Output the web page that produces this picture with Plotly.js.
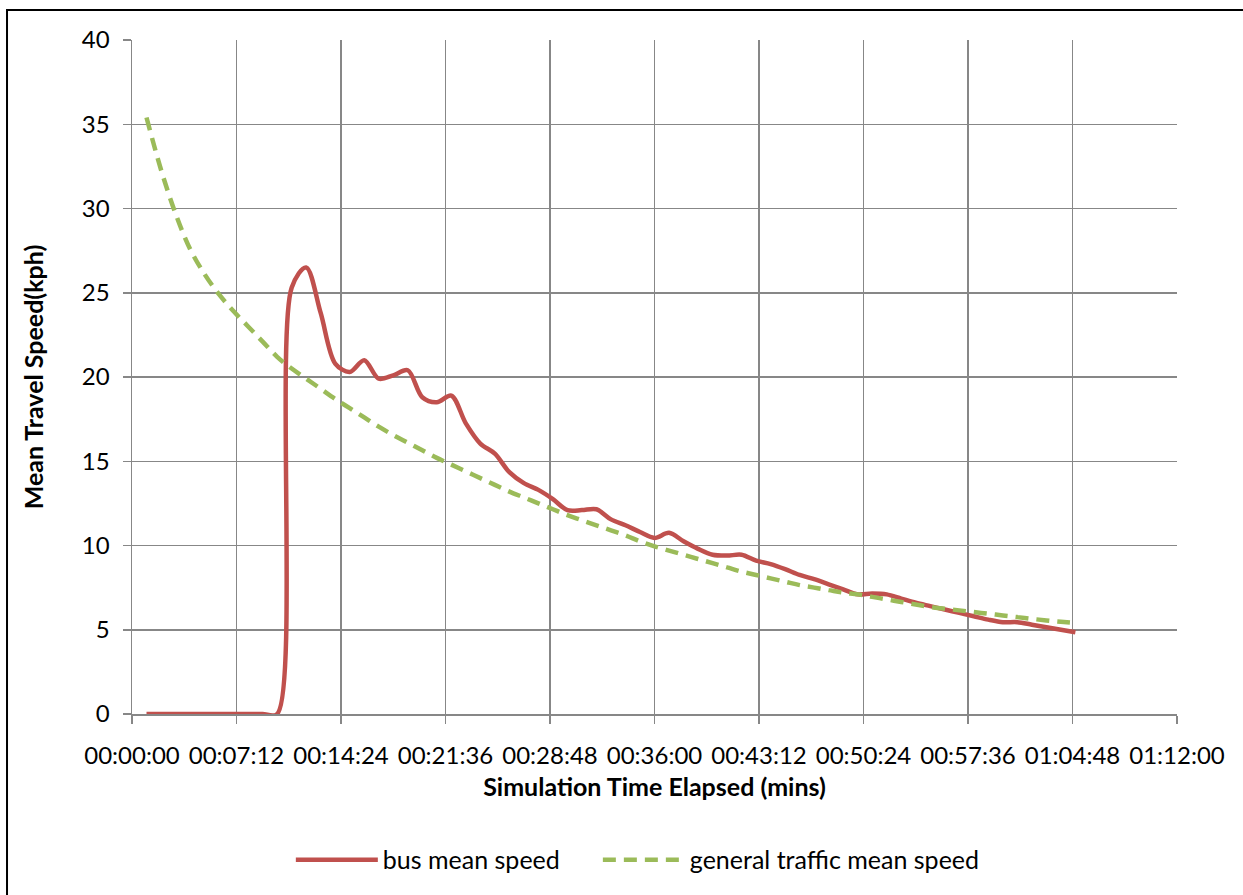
<!DOCTYPE html>
<html>
<head>
<meta charset="utf-8">
<script src="https://cdn.plot.ly/plotly-3.0.1.min.js"></script>
<style>
  html, body { margin: 0; padding: 0; background: #ffffff; }
  #chart { width: 1243px; height: 895px; }
</style>
</head>
<body>
<div id="chart"></div>
<script>
// Elapsed simulation time, minutes
const minutes = [1,2,3,4,5,6,7,8,9,10,11,12,13,14,15,16,17,18,19,20,21,22,23,24,25,26,27,28,29,30,31,32,33,34,35,36,37,38,39,40,41,42,43,44,45,46,47,48,49,50,51,52,53,54,55,56,57,58,59,60,61,62,63,64,65];

// Bus mean speed (kph)
const busSpeed = [0,0,0,0,0,0,0,0,0,0,25.3,26.5,23.8,20.8,20.3,21.0,19.9,20.1,20.4,18.8,18.5,18.9,17.25,16.05,15.45,14.35,13.7,13.3,12.75,12.1,12.1,12.15,11.55,11.2,10.8,10.45,10.75,10.25,9.8,9.45,9.4,9.45,9.1,8.9,8.6,8.25,8.0,7.7,7.4,7.1,7.15,7.1,6.85,6.6,6.4,6.2,6.0,5.8,5.6,5.45,5.45,5.3,5.15,5.0,4.85];

// General traffic mean speed (kph)
const trafficSpeed = [35.4,32.3,29.7,27.6,26.1,24.9,23.9,23.0,22.1,21.2,20.5,19.9,19.3,18.7,18.15,17.6,17.05,16.55,16.1,15.65,15.2,14.8,14.4,14.0,13.6,13.2,12.85,12.5,12.15,11.8,11.5,11.2,10.9,10.6,10.25,9.95,9.7,9.45,9.2,8.95,8.7,8.45,8.25,8.05,7.85,7.65,7.5,7.35,7.2,7.1,6.95,6.8,6.65,6.5,6.35,6.25,6.15,6.05,5.95,5.85,5.75,5.65,5.55,5.47,5.4];

const seriesNames = ['bus mean speed', 'general traffic mean speed'];
const xTitle = 'Simulation Time Elapsed (mins)';
const yTitle = 'Mean Travel Speed(kph)';

function toTime(m) {
  const h = Math.floor(m / 60), mm = m % 60;
  return '2000-01-01 ' + String(h).padStart(2, '0') + ':' + String(mm).padStart(2, '0') + ':00';
}
const xTimes = minutes.map(toTime);

const FONT = 'Lato, "Open Sans", sans-serif';
const GRID = '#878787';

const traces = [
  {
    x: xTimes, y: busSpeed, name: seriesNames[0], type: 'scatter', mode: 'lines',
    line: { color: '#C0504D', width: 4.5, shape: 'spline', smoothing: 0.9 },
    hoverinfo: 'skip', legend: 'legend'
  },
  {
    x: xTimes, y: trafficSpeed, name: seriesNames[1], type: 'scatter', mode: 'lines',
    line: { color: '#9BBB59', width: 4.5, dash: '13px,8px', shape: 'spline', smoothing: 1 },
    hoverinfo: 'skip', legend: 'legend2'
  }
];

const legendFont = { family: FONT, size: 25, color: '#000000' };

const layout = {
  width: 1243, height: 895,
  margin: { l: 132, r: 66, t: 40, b: 181 },
  paper_bgcolor: '#ffffff', plot_bgcolor: '#ffffff',
  font: { family: FONT, size: 24, color: '#000000' },
  showlegend: true,
  legend: {
    orientation: 'h', x: 0.152, xanchor: 'left', y: -0.2166, yanchor: 'middle',
    font: legendFont, itemwidth: 82
  },
  legend2: {
    orientation: 'h', x: 0.4458, xanchor: 'left', y: -0.2166, yanchor: 'middle',
    font: legendFont, itemwidth: 82
  },
  xaxis: {
    type: 'date',
    range: ['2000-01-01 00:00:00', '2000-01-01 01:12:00'],
    tick0: '2000-01-01 00:00:00', dtick: 432000, tickformat: '%H:%M:%S',
    showgrid: true, gridcolor: GRID, gridwidth: 1.5,
    showline: true, linecolor: GRID, linewidth: 1.5,
    ticks: 'outside', ticklen: 8, tickcolor: GRID, tickwidth: 1.5,
    ticklabelstandoff: 12,
    tickfont: { family: FONT, size: 24, color: '#000000' },
    zeroline: false, fixedrange: true,
    title: { text: xTitle, font: { family: FONT, size: 25, color: '#000000', weight: 'bold' }, standoff: 10 }
  },
  yaxis: {
    range: [0, 40], dtick: 5, tick0: 0,
    showgrid: true, gridcolor: GRID, gridwidth: 1.5,
    showline: true, linecolor: GRID, linewidth: 1.5,
    ticks: 'outside', ticklen: 8, tickcolor: GRID, tickwidth: 1.5,
    ticklabelstandoff: 8,
    tickfont: { family: FONT, size: 24, color: '#000000' },
    zeroline: false, fixedrange: true,
    title: { text: yTitle, font: { family: FONT, size: 25, color: '#000000', weight: 'bold' }, standoff: 31 }
  },
  shapes: [
    {
      type: 'rect', xref: 'paper', yref: 'paper',
      x0: -0.1196, x1: 1.2, y0: -0.5, y1: 1.0445,
      line: { color: '#000000', width: 2 }, fillcolor: 'rgba(0,0,0,0)', layer: 'below'
    }
  ]
};

Plotly.newPlot('chart', traces, layout, { displayModeBar: false, staticPlot: true });
</script>
</body>
</html>
